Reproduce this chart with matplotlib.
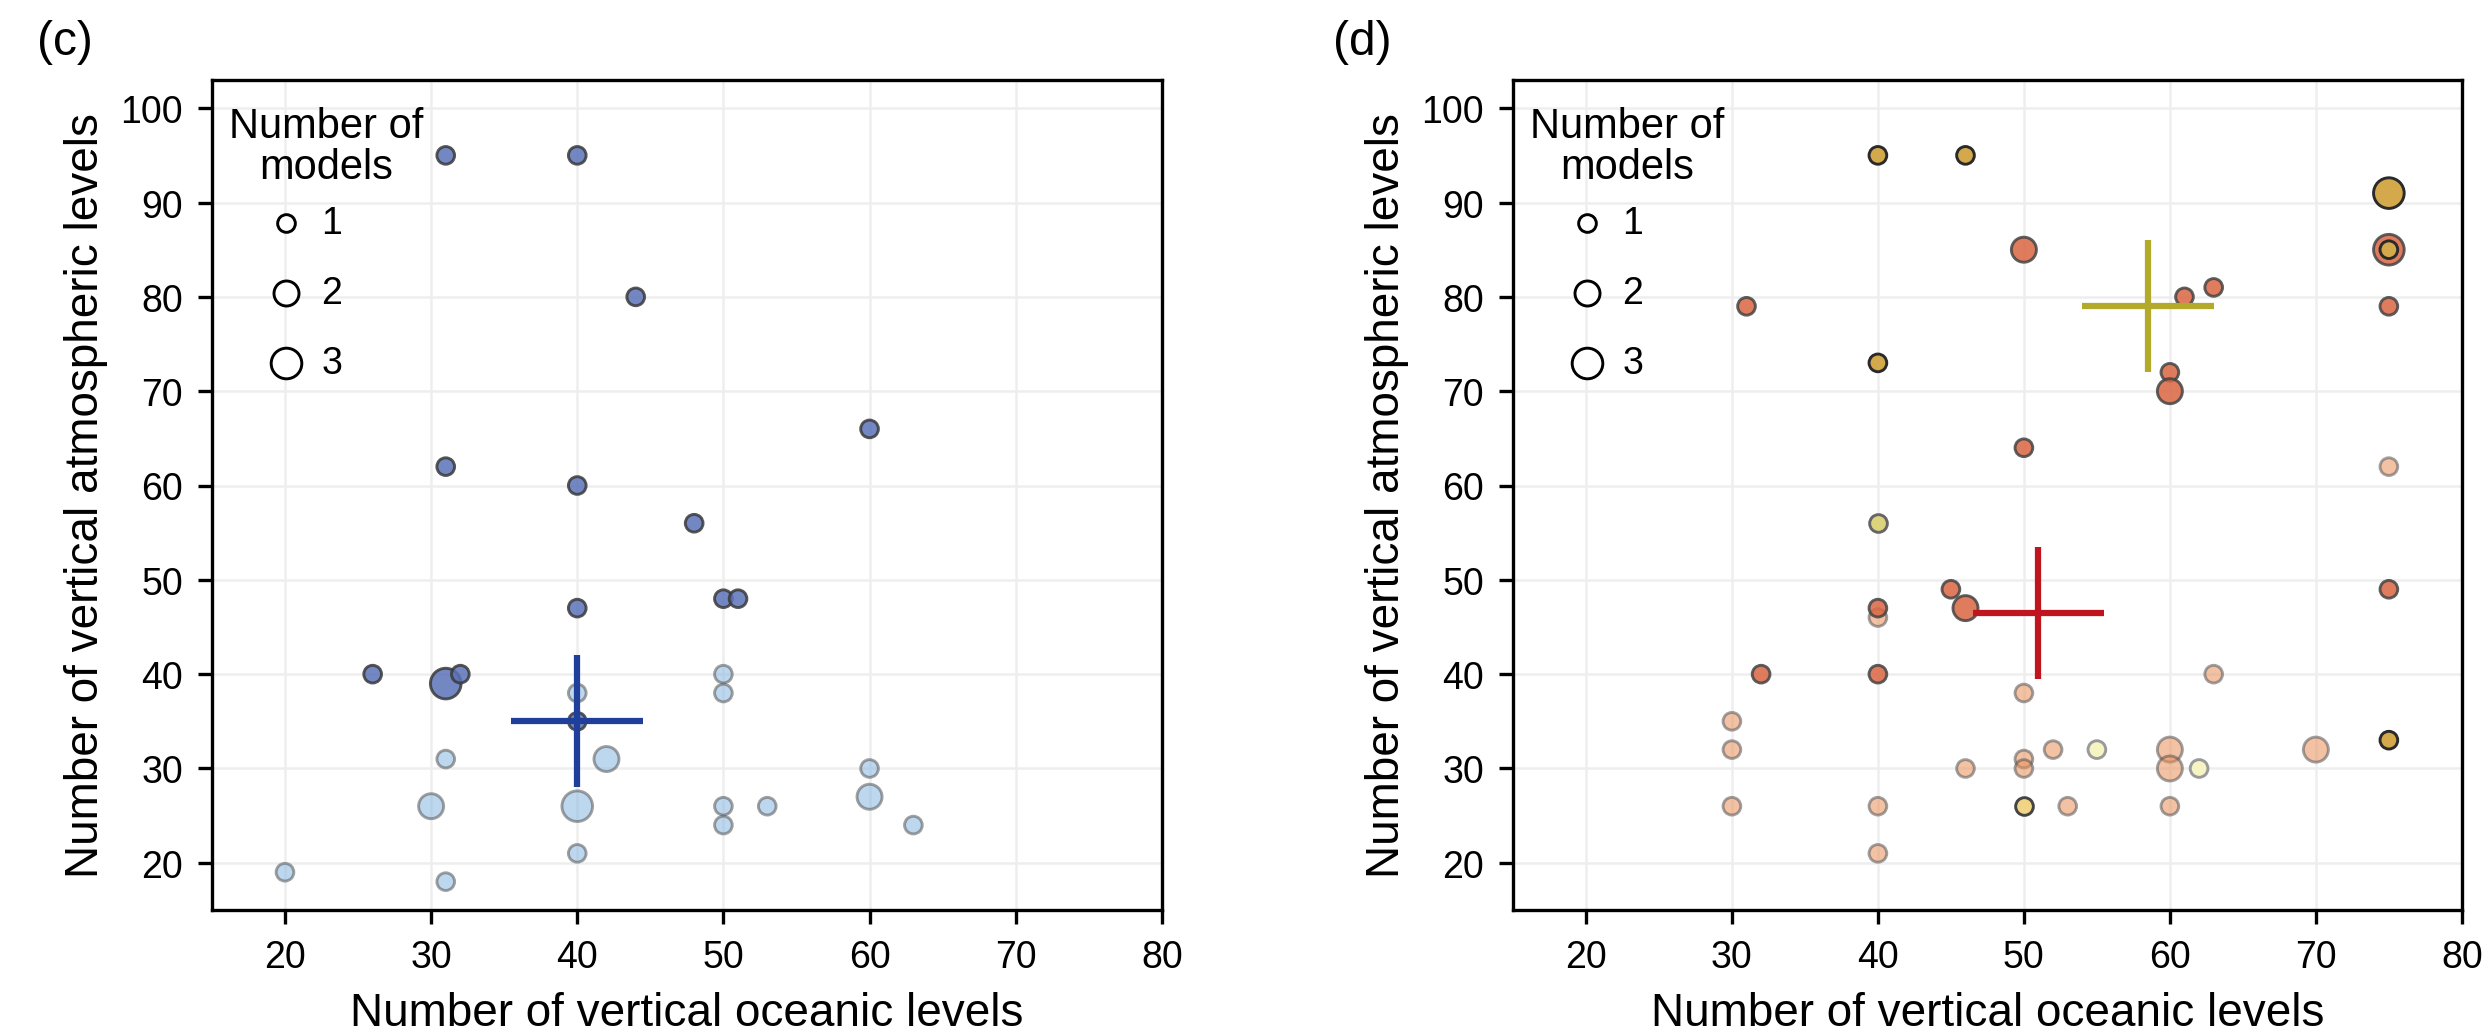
import matplotlib
matplotlib.use("Agg")
import matplotlib.pyplot as plt

plt.rcParams['font.family'] = ['Liberation Sans', 'DejaVu Sans']

# panel (c): model levels, two groups
c_dark_x = [31, 40, 44, 31, 40, 48, 60, 40, 26, 31, 32, 40, 50, 51]
c_dark_y = [95, 95, 80, 62, 60, 56, 66, 47, 40, 39, 40, 35, 48, 48]
c_dark_n = [1, 1, 1, 1, 1, 1, 1, 1, 1, 3, 1, 1, 1, 1]

c_light_x = [40, 31, 42, 30, 40, 40, 20, 31, 50, 50, 60, 60, 50, 50, 53, 63]
c_light_y = [38, 31, 31, 26, 26, 21, 19, 18, 40, 38, 30, 27, 26, 24, 26, 24]
c_light_n = [1, 1, 2, 2, 3, 1, 1, 1, 1, 1, 1, 2, 1, 1, 1, 1]

# panel (d): model levels, several groups
d_peach_x = [40, 30, 30, 46, 30, 40, 40, 75, 63, 50, 50, 50, 52, 60, 60, 70, 53, 60]
d_peach_y = [46, 35, 32, 30, 26, 26, 21, 62, 40, 38, 31, 30, 32, 32, 30, 32, 26, 26]
d_peach_n = [1, 1, 1, 1, 1, 1, 1, 1, 1, 1, 1, 1, 1, 2, 2, 2, 1, 1]

d_pale_x = [55, 62]
d_pale_y = [32, 30]
d_pale_n = [1, 1]

d_green_x = [40]
d_green_y = [56]
d_green_n = [1]

d_orange_x = [31, 45, 46, 40, 32, 40, 50, 61, 63, 60, 60, 50, 75, 75, 75]
d_orange_y = [79, 49, 47, 47, 40, 40, 85, 80, 81, 72, 70, 64, 85, 79, 49]
d_orange_n = [1, 1, 2, 1, 1, 1, 2, 1, 1, 1, 2, 1, 3, 1, 1]

d_lgold_x = [50]
d_lgold_y = [26]
d_lgold_n = [1]

d_gold_x = [40, 46, 40, 75, 75, 75]
d_gold_y = [95, 95, 73, 91, 85, 33]
d_gold_n = [1, 1, 1, 3, 1, 1]

# group centres with spread (x half-width, y half-width)
c_cross = [(40, 35, 4.5, 7.0)]
d_cross = [(51, 46.5, 4.5, 7.0), (58.5, 79, 4.5, 7.0)]

legend_counts = [1, 2, 3]
S_UNIT = 18


def dots(ax, x, y, n, fc, ec, alpha, z):
    ax.scatter(x, y, s=[S_UNIT * k for k in n], facecolors=fc, edgecolors=ec,
               linewidths=0.7, alpha=alpha, zorder=z)


def cross(ax, spec, color):
    cx, cy, dx, dy = spec
    ax.plot([cx - dx, cx + dx], [cy, cy], color=color, lw=1.5, zorder=5,
            solid_capstyle='butt')
    ax.plot([cx, cx], [cy - dy, cy + dy], color=color, lw=1.5, zorder=5,
            solid_capstyle='butt')


def style(ax):
    ax.set_xlim(15, 80)
    ax.set_ylim(15, 103)
    ax.set_xticks([20, 30, 40, 50, 60, 70, 80])
    ax.set_yticks([20, 30, 40, 50, 60, 70, 80, 90, 100])
    ax.grid(True, color='#eeeeee', lw=0.6)
    ax.set_axisbelow(True)
    for sp in ax.spines.values():
        sp.set_linewidth(0.8)
    ax.tick_params(labelsize=9, length=3.4, width=0.8)
    ax.set_xlabel('Number of vertical oceanic levels', fontsize=11, labelpad=4)
    ax.set_ylabel('Number of vertical atmospheric levels', fontsize=11, labelpad=3)

    handles = [ax.scatter([], [], s=S_UNIT * k, facecolors='white',
                          edgecolors='black', linewidths=0.7)
               for k in legend_counts]
    ax.legend(handles, [str(k) for k in legend_counts], loc='upper left',
              bbox_to_anchor=(0.058, 0.849), frameon=False, fontsize=9,
              handlelength=1.0, handletextpad=0.45, labelspacing=0.9,
              borderpad=0, borderaxespad=0)
    ax.text(0.12, 0.969, 'Number of\nmodels', transform=ax.transAxes,
            ha='center', va='top', fontsize=10, linespacing=1.05)


fig = plt.figure(figsize=(8.3, 3.4533), dpi=300)
ax1 = fig.add_axes([0.0851, 0.1207, 0.3815, 0.8012])
ax2 = fig.add_axes([0.6076, 0.1207, 0.3811, 0.8012])

# (c)
dots(ax1, c_light_x, c_light_y, c_light_n, '#87b6e0', '#555555', 0.55, 3)
dots(ax1, c_dark_x, c_dark_y, c_dark_n, '#5b72b9', '#3a3a3a', 0.85, 4)
for spec in c_cross:
    cross(ax1, spec, '#203f9a')
style(ax1)

# (d)
dots(ax2, d_peach_x, d_peach_y, d_peach_n, '#ea915c', '#555555', 0.55, 3)
dots(ax2, d_pale_x, d_pale_y, d_pale_n, '#f7f4c4', '#9a9a9a', 1.0, 3)
dots(ax2, d_green_x, d_green_y, d_green_n, '#dbd47c', '#666666', 1.0, 4)
dots(ax2, d_orange_x, d_orange_y, d_orange_n, '#db6542', '#444444', 0.85, 4)
dots(ax2, d_lgold_x, d_lgold_y, d_lgold_n, '#f2d486', '#444444', 1.0, 4)
dots(ax2, d_gold_x, d_gold_y, d_gold_n, '#d4a94b', '#2a2a2a', 1.0, 4)
cross(ax2, d_cross[0], '#c0141f')
cross(ax2, d_cross[1], '#b3a92a')
style(ax2)

fig.text(0.0149, 0.959, '(c)', fontsize=11.5, ha='left', va='center')
fig.text(0.5353, 0.959, '(d)', fontsize=11.5, ha='left', va='center')

fig.savefig('out.png', dpi=300)
